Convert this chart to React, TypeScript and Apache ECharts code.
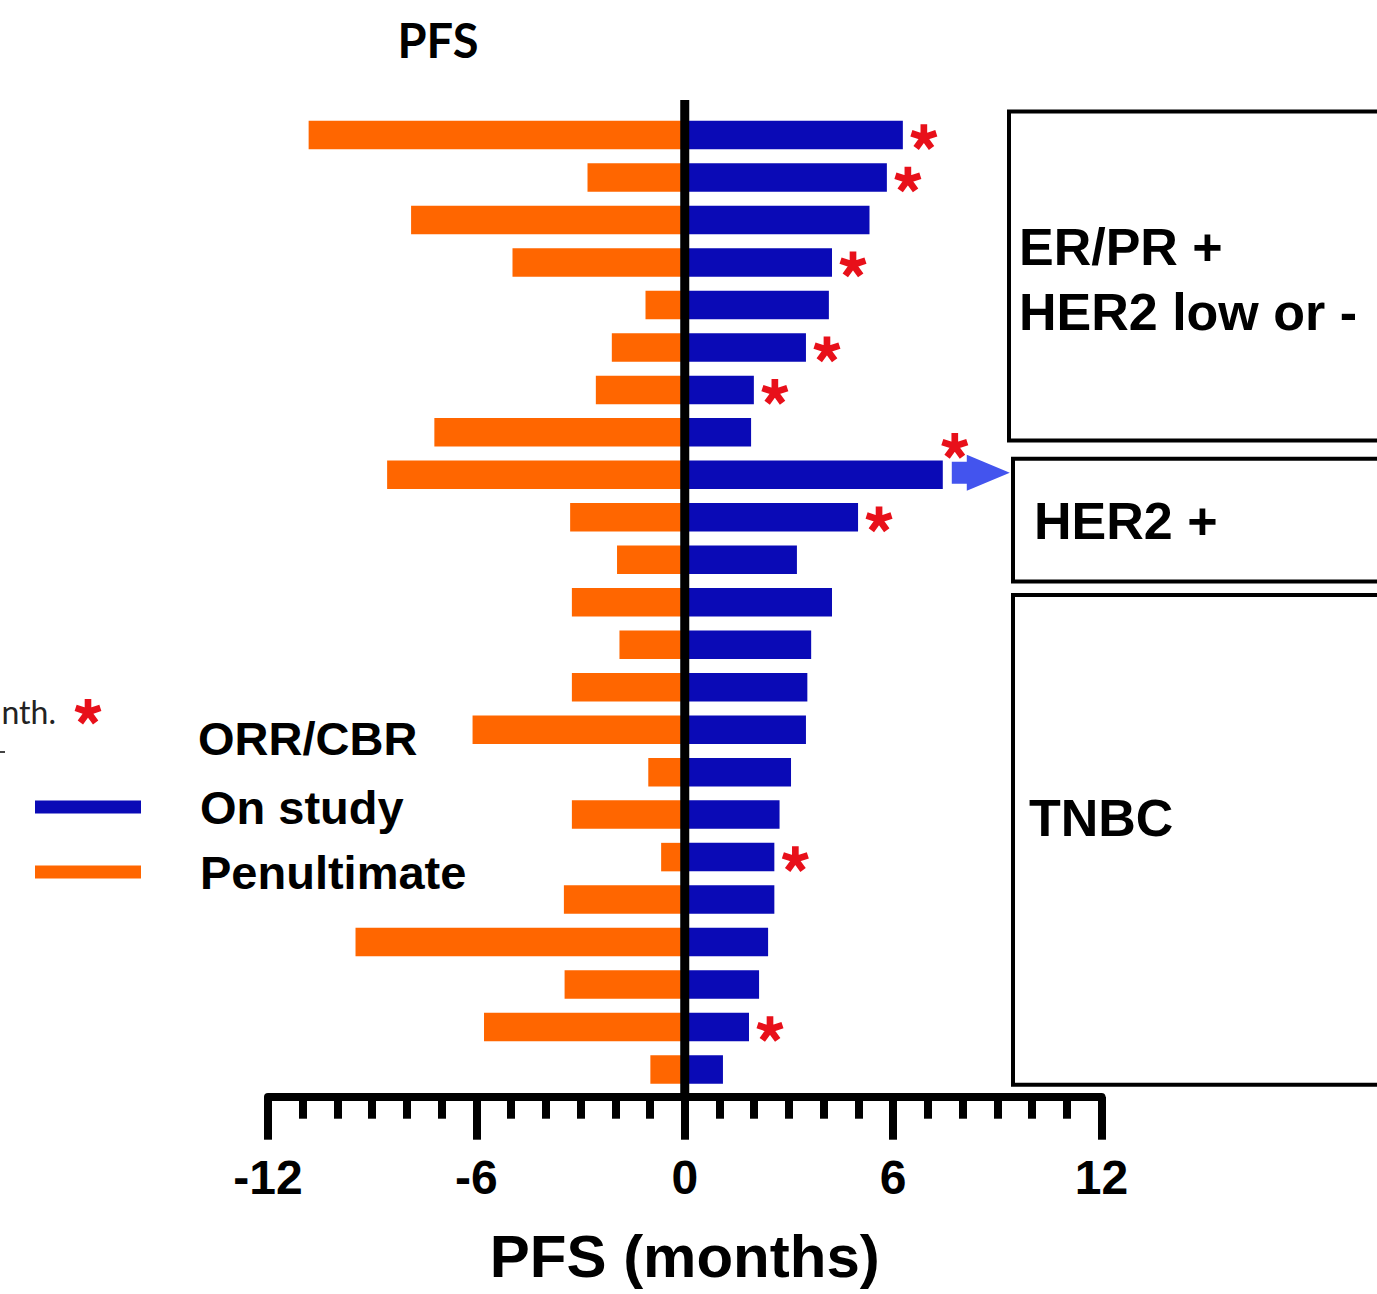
import React, { useEffect, useRef } from "react";
import * as echarts from "echarts";

// ---- data ----
const patients = [
  "P1", "P2", "P3", "P4", "P5", "P6", "P7", "P8", "P9", "P10", "P11", "P12",
  "P13", "P14", "P15", "P16", "P17", "P18", "P19", "P20", "P21", "P22", "P23",
];
const onStudy = [
  6.28, 5.82, 5.32, 4.24, 4.15, 3.49, 1.99, 1.91, 7.43, 4.99, 3.23, 4.24,
  3.64, 3.53, 3.49, 3.06, 2.73, 2.58, 2.58, 2.40, 2.14, 1.85, 1.10,
];
const penultimate = [
  -10.83, -2.80, -7.88, -4.96, -1.13, -2.10, -2.56, -7.21, -8.57, -3.30, -1.95, -3.25,
  -1.88, -3.25, -6.11, -1.05, -3.25, -0.68, -3.48, -9.48, -3.46, -5.78, -0.99,
];
// rows (0-based) flagged ORR/CBR with a red asterisk
const responders = [0, 1, 3, 5, 6, 8, 9, 17, 21];
const ongoingRow = 8; // arrow: still on study
const xMin = -12;
const xMax = 12;
const xMajor = 6;
const groupLabels = ["ER/PR +\nHER2 low or -", "HER2 +", "TNBC"];

const BLUE = "#0a0ab6";
const ORANGE = "#ff6600";
const RED = "#e8101a";
const ARIAL = '"Liberation Sans", Arial, Helvetica, sans-serif';

// 5-armed asterisk path
function starPath(): string {
  const w = 3.3;
  const L = 13;
  let d = "";
  for (let k = 0; k < 5; k++) {
    const a = (-90 + k * 72) * (Math.PI / 180);
    const dx = Math.cos(a), dy = Math.sin(a);
    const nx = -dy, ny = dx;
    const p = [
      [nx * w, ny * w],
      [nx * w + dx * L, ny * w + dy * L],
      [-nx * w + dx * L, -ny * w + dy * L],
      [-nx * w, -ny * w],
    ];
    d += `M${p[0][0].toFixed(2)} ${p[0][1].toFixed(2)}`;
    for (let i = 1; i < 4; i++) d += `L${p[i][0].toFixed(2)} ${p[i][1].toFixed(2)}`;
    d += "Z";
  }
  return d;
}
const STAR = starPath();
echarts.graphic.registerShape("star5", echarts.graphic.extendPath(STAR, {}));

export default function App() {
  const ref = useRef<HTMLDivElement>(null);
  useEffect(() => {
    document.body.style.margin = "0";
    const chart = echarts.init(ref.current!, null, { renderer: "svg" });
    const option: any = {
      animation: false,
      backgroundColor: "#ffffff",
      grid: { left: 268, right: 275.5, top: 113.8, bottom: 203.3, containLabel: false },
      legend: {
        data: ["On study", "Penultimate"],
        orient: "vertical",
        left: 30,
        top: 777,
        padding: 5,
        icon: "rect",
        itemWidth: 106,
        itemHeight: 13,
        itemGap: 15,
        selectedMode: false,
        textStyle: {
          fontFamily: ARIAL,
          fontSize: 47,
          fontWeight: "bold",
          color: "#000",
          lineHeight: 50,
          padding: [0, 0, 0, 54],
        },
      },
      xAxis: {
        type: "value",
        min: xMin,
        max: xMax,
        interval: xMajor,
        offset: 6,
        axisLine: { show: true, onZero: false, lineStyle: { color: "#000", width: 8 } },
        axisTick: { show: true, length: 43, lineStyle: { color: "#000", width: 8 } },
        minorTick: { show: true, splitNumber: 6, length: 22, lineStyle: { color: "#000", width: 8 } },
        splitLine: { show: false },
        minorSplitLine: { show: false },
        axisLabel: {
          margin: 57,
          fontFamily: ARIAL,
          fontSize: 48,
          fontWeight: "bold",
          color: "#000",
        },
        name: "PFS (months)",
        nameLocation: "middle",
        nameGap: 130,
        nameTextStyle: { fontFamily: ARIAL, fontSize: 60, fontWeight: "bold", color: "#000" },
      },
      yAxis: {
        type: "category",
        data: patients,
        inverse: true,
        axisLine: { show: false },
        axisTick: { show: false },
        axisLabel: { show: false },
        splitLine: { show: false },
      },
      series: [
        {
          name: "On study",
          type: "bar",
          data: onStudy,
          barWidth: 28.5,
          barGap: "-100%",
          itemStyle: { color: BLUE },
        },
        {
          name: "Penultimate",
          type: "bar",
          data: penultimate,
          barWidth: 28.5,
          barGap: "-100%",
          itemStyle: { color: ORANGE },
        },
        {
          name: "ORR/CBR",
          type: "scatter",
          symbol: "path://" + STAR,
          symbolSize: 27,
          symbolKeepAspect: true,
          itemStyle: { color: RED, opacity: 1 },
          z: 5,
          data: responders.map((i) => ({
            value: [onStudy[i], i],
            symbolOffset: i === ongoingRow ? [12, -29] : [21, 2],
          })),
        },
      ],
    };
    chart.setOption(option);

    const x0 = chart.convertToPixel({ xAxisIndex: 0 }, 0) as number;
    const endPt = chart.convertToPixel({ gridIndex: 0 }, [onStudy[ongoingRow], ongoingRow]) as number[];
    const xe = endPt[0];
    const yc = endPt[1] - 2;

    const boxStyle = { stroke: "#000", lineWidth: 4, fill: "rgba(0,0,0,0)" };
    const boxText = { fontFamily: ARIAL, fontSize: 52, fontWeight: "bold", fill: "#000" };

    chart.setOption({
      graphic: [
        // vertical zero line
        {
          type: "line",
          z: 20,
          shape: { x1: x0, y1: 100, x2: x0, y2: 1097 },
          style: { stroke: "#000", lineWidth: 9 },
        },
        // arrow for ongoing patient
        {
          type: "polygon",
          z: 20,
          shape: {
            points: [
              [xe + 9, yc - 11],
              [xe + 24, yc - 11],
              [xe + 24, yc - 18],
              [xe + 67, yc],
              [xe + 24, yc + 18],
              [xe + 24, yc + 11],
              [xe + 9, yc + 11],
            ],
          },
          style: { fill: "#4354ee" },
        },
        // group boxes
        { type: "rect", shape: { x: 1009, y: 111.5, width: 420, height: 329 }, style: boxStyle },
        { type: "rect", shape: { x: 1013, y: 458.7, width: 420, height: 122.8 }, style: boxStyle },
        { type: "rect", shape: { x: 1013, y: 595, width: 420, height: 489.7 }, style: boxStyle },
        {
          type: "text",
          x: 1019,
          y: 279,
          style: { ...boxText, text: groupLabels[0], lineHeight: 65, textVerticalAlign: "middle" },
        },
        {
          type: "text",
          x: 1034,
          y: 521,
          style: { ...boxText, text: groupLabels[1], textVerticalAlign: "middle" },
        },
        {
          type: "text",
          x: 1029,
          y: 818,
          style: { ...boxText, text: groupLabels[2], textVerticalAlign: "middle" },
        },
        // title
        {
          type: "text",
          x: 438,
          y: 40,
          style: {
            text: "PFS",
            fontFamily: "Lato, 'Open Sans', sans-serif",
            fontSize: 47,
            fontWeight: "bold",
            fill: "#000",
            textAlign: "center",
            textVerticalAlign: "middle",
          },
        },
        // legend header
        {
          type: "text",
          x: 198,
          y: 738,
          style: {
            text: "ORR/CBR",
            fontFamily: ARIAL,
            fontSize: 47,
            fontWeight: "bold",
            fill: "#000",
            textVerticalAlign: "middle",
          },
        },
        // cut-off note at left edge
        {
          type: "text",
          x: 56,
          y: 711,
          style: {
            text: "nth.",
            fontFamily: "Lato, 'Open Sans', sans-serif",
            fontSize: 32,
            fill: "#222",
            textAlign: "right",
            textVerticalAlign: "middle",
          },
        },
        {
          type: "star5",
          x: 88,
          y: 712,
          scaleX: 1,
          scaleY: 1,
          style: { fill: RED },
        },
        {
          type: "line",
          shape: { x1: 0, y1: 752, x2: 5, y2: 752 },
          style: { stroke: "#444", lineWidth: 2 },
        },
      ],
    });

    return () => chart.dispose();
  }, []);
  return <div ref={ref} style={{ width: 1377, height: 1294 }} />;
}
